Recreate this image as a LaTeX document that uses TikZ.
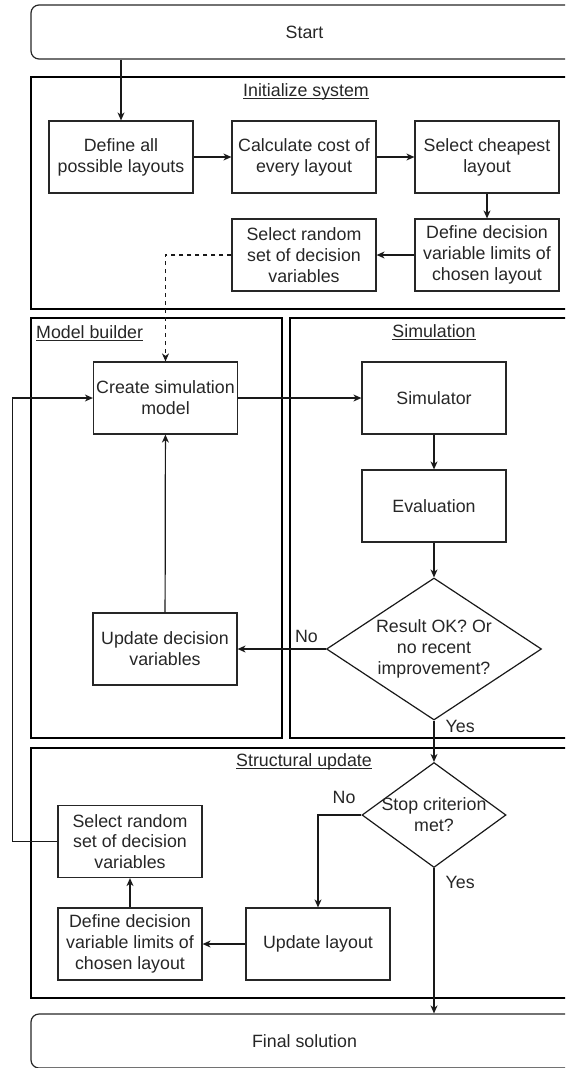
\documentclass[tikz,border=0pt]{standalone}
\usepackage{fontspec}
\setmainfont{Liberation Sans}
\usetikzlibrary{arrows.meta,positioning,shapes.geometric}

% underlined lane title, rule just under the baseline
\newcommand{\ulbl}[1]{\setbox0=\hbox{#1}\rlap{\rule[-2.4pt]{\wd0}{0.9pt}}\box0}

\begin{document}
\begin{tikzpicture}[x=1pt, y=-1pt,
	font=\fontsize{17.8}{20.8}\selectfont, text=black!85,
	box/.style={draw=black!85, line width=1.2pt, minimum width=144pt, minimum height=72pt, align=center, inner sep=1pt},
	term/.style={draw=black!85, line width=1.2pt, rounded corners=8pt, minimum width=547pt, minimum height=54pt},
	decision/.style={draw=black!90, diamond, line width=1.2pt, inner sep=0pt},
	lane/.style={draw=black, line width=2.6pt},
	ttl/.style={inner sep=0pt},
	lbl/.style={inner sep=1pt, align=center},
	arr/.style={draw=black!90, line width=1.2pt, -{Stealth[length=8pt,width=7pt,inset=2.5pt]}}]
	\useasboundingbox (0,0) rectangle (565,1068);
	\clip (0,0) rectangle (565,1068);

	% lanes
	\draw[lane] (31,77) rectangle (578,309);
	\draw[lane] (31,318) rectangle (282,738);
	\draw[lane] (290,318) rectangle (578,738);
	\draw[lane] (31,748) rectangle (578,998);
	\node[ttl] (tinit) at (306,92) {\ulbl{Initialize system}};
	\node[ttl, anchor=west] (tmodel) at (36,333) {\ulbl{Model builder}};
	\node[ttl] (tsim) at (434,332) {\ulbl{Simulation}};
	\node[ttl] (tstruct) at (304,762) {\ulbl{Structural update}};

	% start / end
	\node[term] (start) at (304.5,32) {Start};
	\node[term] (final) at (304.5,1041) {Final solution};

	% initialize system
	\node[box] (define) at (121,157) {Define all\\possible layouts};
	\node[box] (calc) [right of=define, node distance=183pt] {Calculate cost of\\every layout};
	\node[box] (cheap) [right of=calc, node distance=183pt] {Select cheapest\\layout};
	\node[box] (limits) [below of=cheap, node distance=98pt] {Define decision\\variable limits of\\chosen layout};
	\node[box] (rand) [left of=limits, node distance=183pt] {Select random\\set of decision\\variables};

	% simulation
	\node[box] (sim) at (434,398) {Simulator};
	\node[box] (eval) [below of=sim, node distance=108pt] {Evaluation};
	\node[decision, minimum width=215pt, minimum height=142pt,
		label={[lbl]center:Result OK? Or\\no recent\\improvement?}] (result) [below of=eval, node distance=143pt] {};

	% model builder
	\node[box] (create) [left of=sim, node distance=268.5pt] {Create simulation\\model};
	\node[box] (upd) [left of=result, node distance=269pt] {Update decision\\variables};

	% structural update
	\node[decision, minimum width=144pt, minimum height=105pt,
		label={[lbl]center:Stop criterion\\met?}] (stop) [below of=result, node distance=166pt] {};
	\node[box] (updlay) at (318,944) {Update layout};
	\node[box] (limits2) [left of=updlay, node distance=188pt] {Define decision\\variable limits of\\chosen layout};
	\node[box] (rand2) [above of=limits2, node distance=102.5pt] {Select random\\set of decision\\variables};

	\draw[arr] (start.south -| define.north) -- (define.north);
	\draw[arr] (define) -- (calc);
	\draw[arr] (calc) -- (cheap);
	\draw[arr] (cheap) -- (limits);
	\draw[arr] (limits) -- (rand);
	\draw[arr, dash pattern=on 4pt off 4pt] (rand.west) -| (create.north);
	\draw[arr] (create) -- (sim);
	\draw[arr] (sim) -- (eval);
	\draw[arr] (eval) -- (result.north);
	\draw[arr] (result.west) -- node[lbl, pos=0.22, above=5pt] {No} (upd.east);
	\draw[arr] (upd) -- (create);
	\draw[arr] (result.south) -- node[lbl, pos=0.13, right=10pt] {Yes} (stop.north);
	\draw[arr] (stop.west) -| node[lbl, pos=0.2, above=10pt] {No} (updlay.north);
	\draw[arr] (stop.south) -- node[lbl, pos=0.1, right=10pt] {Yes} (stop.south |- final.north);
	\draw[arr] (updlay) -- (limits2);
	\draw[arr] (limits2) -- (rand2);
	\draw[arr] (rand2.west) -- ++(-45,0) |- (create.west);
\end{tikzpicture}
\end{document}
